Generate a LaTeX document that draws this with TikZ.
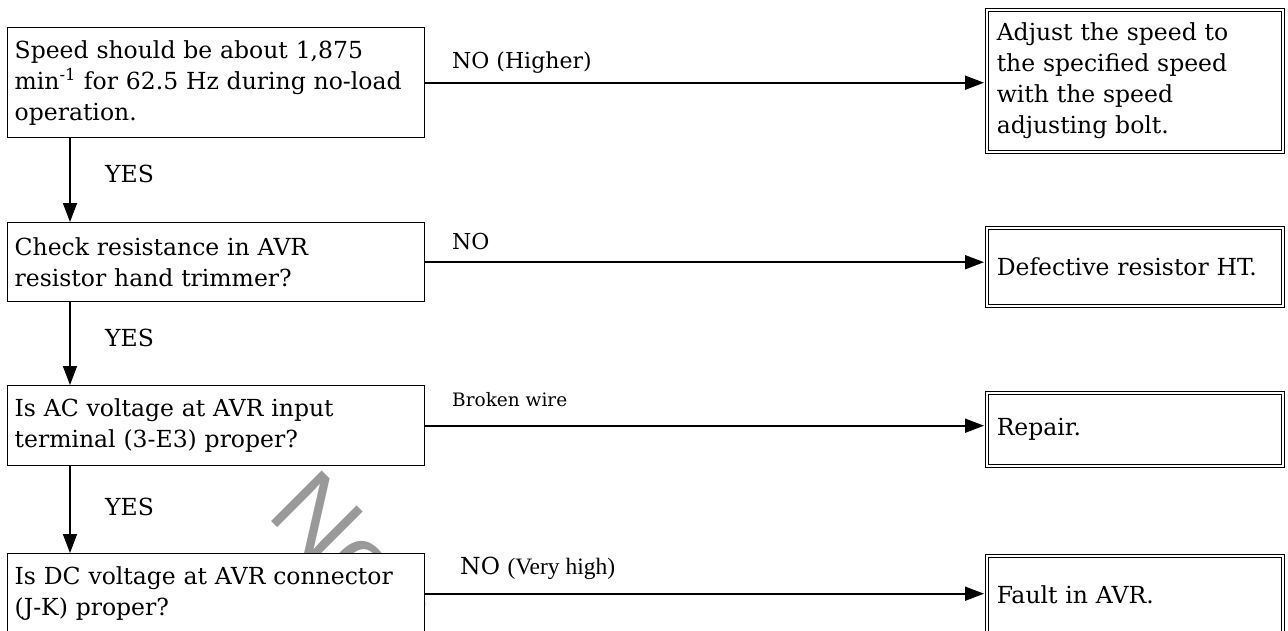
\documentclass[tikz,border=0pt]{standalone}
\usepackage{fontspec}
\setmainfont{DejaVu Serif}
\newfontfamily\wmfont{Liberation Sans}
\newfontfamily\narrowfont{Liberation Serif}
\usetikzlibrary{arrows.meta,positioning}
\tikzset{
  x=1pt, y=-1pt,
  txt/.style={font=\fontsize{23.5}{31}\selectfont},
  qbox/.style={txt, draw, line width=1.4pt, fill=white, anchor=north west,
    align=left, text width=403pt, inner xsep=7pt, inner ysep=0pt},
  rbox/.style={txt, draw, double, line width=1.5pt, double distance=1.5pt, fill=white,
    anchor=north west, align=left, text width=276pt, inner xsep=10pt, inner ysep=0pt},
  arr/.style={line width=1.8pt, -{Triangle[length=19pt,width=14pt]}},
  lbl/.style={txt, inner sep=0pt, anchor=base west},
  wm/.style={font=\wmfont\fontsize{104}{104}\selectfont, text=black!40, inner sep=0pt}
}
\begin{document}
\begin{tikzpicture}
\clip (0,0) rectangle (1288,630);
\fill[white] (0,0) rectangle (1288,630);
% watermark
\node[wm, rotate=-45, anchor=base west] (wmk) at (265,515) {Nos};
% question boxes
\node[qbox, minimum height=110pt] (q1) at (7,27) {Speed should be about 1,875\\ min\textsuperscript{-1} for 62.5 Hz during no-load\\ operation.};
\node[qbox, minimum height=79pt] (q2) at (7,222) {Check resistance in AVR\\ resistor hand trimmer?};
\node[qbox, minimum height=80pt] (q3) at (7,385) {Is AC voltage at AVR input\\ terminal (3-E3) proper?};
\node[qbox, minimum height=80pt] (q4) at (7,553) {Is DC voltage at AVR connector\\ (J-K) proper?};
% result boxes
\node[rbox, minimum height=142pt] (r1) at (986,9) {Adjust the speed to\\ the specified speed\\ with the speed\\ adjusting bolt.};
\node[rbox, minimum height=78pt] (r2) at (986,227) {Defective resistor HT.};
\node[rbox, minimum height=73pt] (r3) at (986,392) {Repair.};
\node[rbox, minimum height=78pt] (r4) at (986,555) {Fault in AVR.};
% horizontal connectors
\draw[arr, shorten >=2pt] (q1.east) -- (q1.east -| r1.west);
\draw[arr, shorten >=2pt] (q2.east) -- (q2.east -| r2.west);
\draw[arr, shorten >=2pt] (q3.east) -- (q3.east -| r3.west);
\draw[arr, shorten >=2pt] (q4.east) -- (q4.east -| r4.west);
% vertical connectors
\draw[arr] ([xshift=63pt]q1.south west) -- ([xshift=63pt]q2.north west);
\draw[arr] ([xshift=63pt]q2.south west) -- ([xshift=63pt]q3.north west);
\draw[arr] ([xshift=63pt]q3.south west) -- ([xshift=63pt]q4.north west);
% labels
\node[lbl, font=\fontsize{22}{26}\selectfont] (l1) at (452,68) {NO (Higher)};
\node[lbl, font=\fontsize{22}{26}\selectfont] (l2) at (452,249) {NO};
\node[lbl, font=\fontsize{18.5}{22}\selectfont] (l3) at (452,406) {Broken wire};
\node[lbl] (l4) at (460,574) {NO {\narrowfont(Very high)}};
\node[lbl] (y1) at (105,182) {YES};
\node[lbl] (y2) at (105,346) {YES};
\node[lbl] (y3) at (105,515) {YES};
\end{tikzpicture}
\end{document}
